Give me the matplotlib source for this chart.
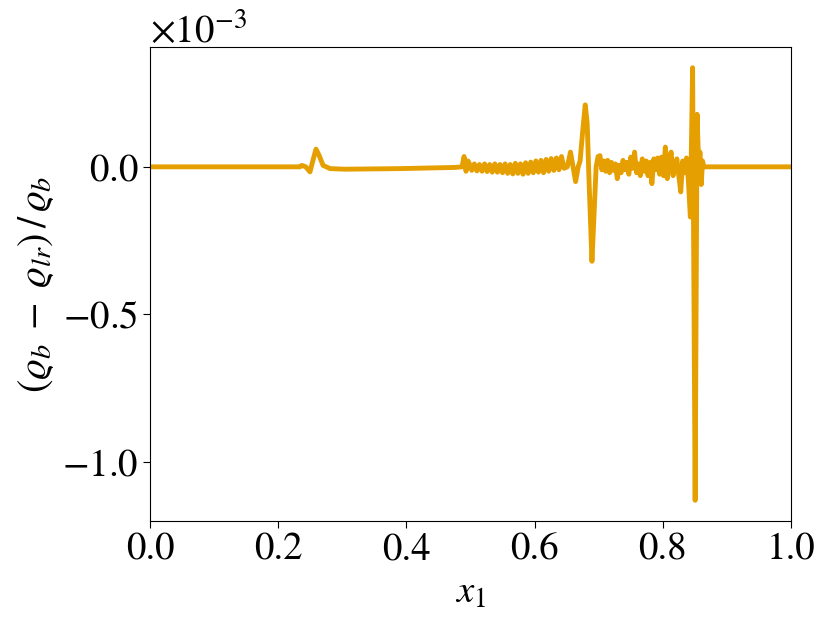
import numpy as np
import matplotlib
matplotlib.use("Agg")
import matplotlib.pyplot as plt
from matplotlib.ticker import MultipleLocator, ScalarFormatter

plt.rcParams["font.family"] = "STIXGeneral"
plt.rcParams["mathtext.fontset"] = "stix"

ORANGE = "#E69F00"

# x1 positions and relative difference (in units of 1e-3)
x1 = [
    0.0, 0.234, 0.237, 0.243, 0.2496, 0.254, 0.259, 0.2636, 0.270, 0.281,
    0.304, 0.390, 0.476, 0.4867, 0.490, 0.493, 0.496,
    0.498, 0.502, 0.506, 0.510, 0.514, 0.518, 0.522, 0.526, 0.530, 0.534,
    0.538, 0.542, 0.546, 0.550, 0.554, 0.558, 0.562, 0.566, 0.570, 0.574,
    0.578, 0.582, 0.586, 0.590, 0.594, 0.598, 0.602, 0.606, 0.610, 0.614,
    0.618, 0.622, 0.626, 0.630, 0.634, 0.638, 0.642, 0.646, 0.651,
    0.656, 0.660, 0.664, 0.668, 0.671, 0.675, 0.679, 0.682, 0.685, 0.6895,
    0.693, 0.696, 0.699,
    0.702, 0.705, 0.708, 0.711, 0.714, 0.717, 0.720, 0.723, 0.726, 0.729,
    0.732, 0.735, 0.738, 0.741, 0.744, 0.747, 0.750, 0.753, 0.756, 0.759,
    0.762, 0.765, 0.768, 0.771, 0.774, 0.777, 0.780, 0.783, 0.786, 0.789,
    0.792, 0.795, 0.798, 0.801, 0.804, 0.807, 0.810, 0.813, 0.816, 0.819,
    0.822, 0.825, 0.828, 0.831, 0.834, 0.837,
    0.840, 0.843, 0.8465, 0.8505, 0.8535, 0.856, 0.858, 0.860, 0.862, 0.864,
    1.0,
]
rel_diff_e3 = [
    0.0, 0.0, 0.005, 0.0, -0.017, 0.02, 0.06, 0.04, 0.005, -0.006,
    -0.008, -0.006, -0.002, 0.0, 0.035, -0.015, 0.02,
    0.012, -0.012, 0.010, -0.014, 0.008, -0.015, 0.010, -0.016, 0.008, -0.018,
    0.010, -0.018, 0.008, -0.020, 0.010, -0.022, 0.008, -0.024, 0.012, -0.022,
    0.010, -0.025, 0.014, -0.022, 0.016, -0.020, 0.020, -0.018, 0.022, -0.020,
    0.025, -0.015, 0.028, -0.012, 0.030, -0.010, 0.035, -0.005, 0.0,
    0.05, 0.0, -0.05, 0.0, 0.02, 0.12, 0.21, 0.15, -0.05, -0.32,
    -0.15, 0.0, 0.035,
    0.038, -0.010, 0.020, -0.015, 0.022, -0.020, 0.015, -0.012, 0.010, -0.040,
    0.005, -0.020, 0.022, -0.010, 0.015, -0.025, 0.033, -0.005, 0.050, -0.020,
    0.010, -0.030, 0.027, -0.015, 0.020, -0.030, 0.015, -0.057, 0.027, -0.010,
    0.030, -0.025, 0.033, -0.030, 0.067, -0.040, 0.020, 0.050, -0.030, 0.010,
    0.027, -0.030, -0.085, 0.020, -0.020, 0.030,
    -0.05, -0.17, 0.336, -1.13, 0.178, 0.0, 0.05, -0.06, 0.02, 0.0,
    0.0,
]

fig = plt.figure(figsize=(8.3, 6.38), dpi=100)
ax = fig.add_axes([0.1807, 0.1834, 0.7723, 0.7429])
ax.plot(x1, np.array(rel_diff_e3) * 1e-3, color=ORANGE, lw=3.5)

ax.set_xlim(0, 1)
ax.set_ylim(-1.2e-3, 0.406e-3)
ax.xaxis.set_major_locator(MultipleLocator(0.2))
ax.yaxis.set_major_locator(MultipleLocator(0.5e-3))
fmt = ScalarFormatter(useMathText=True)
fmt.set_powerlimits((-2, 2))
ax.yaxis.set_major_formatter(fmt)
ax.tick_params(labelsize=28, length=5)
ax.yaxis.get_offset_text().set_fontsize(28)

ax.set_xlabel(r"$x_1$", fontsize=28, labelpad=6)
ax.set_ylabel(r"$(\varrho_b\;-\;\varrho_{lr})\,/\,\varrho_b$", fontsize=29)

fig.savefig("out.png", dpi=100)
